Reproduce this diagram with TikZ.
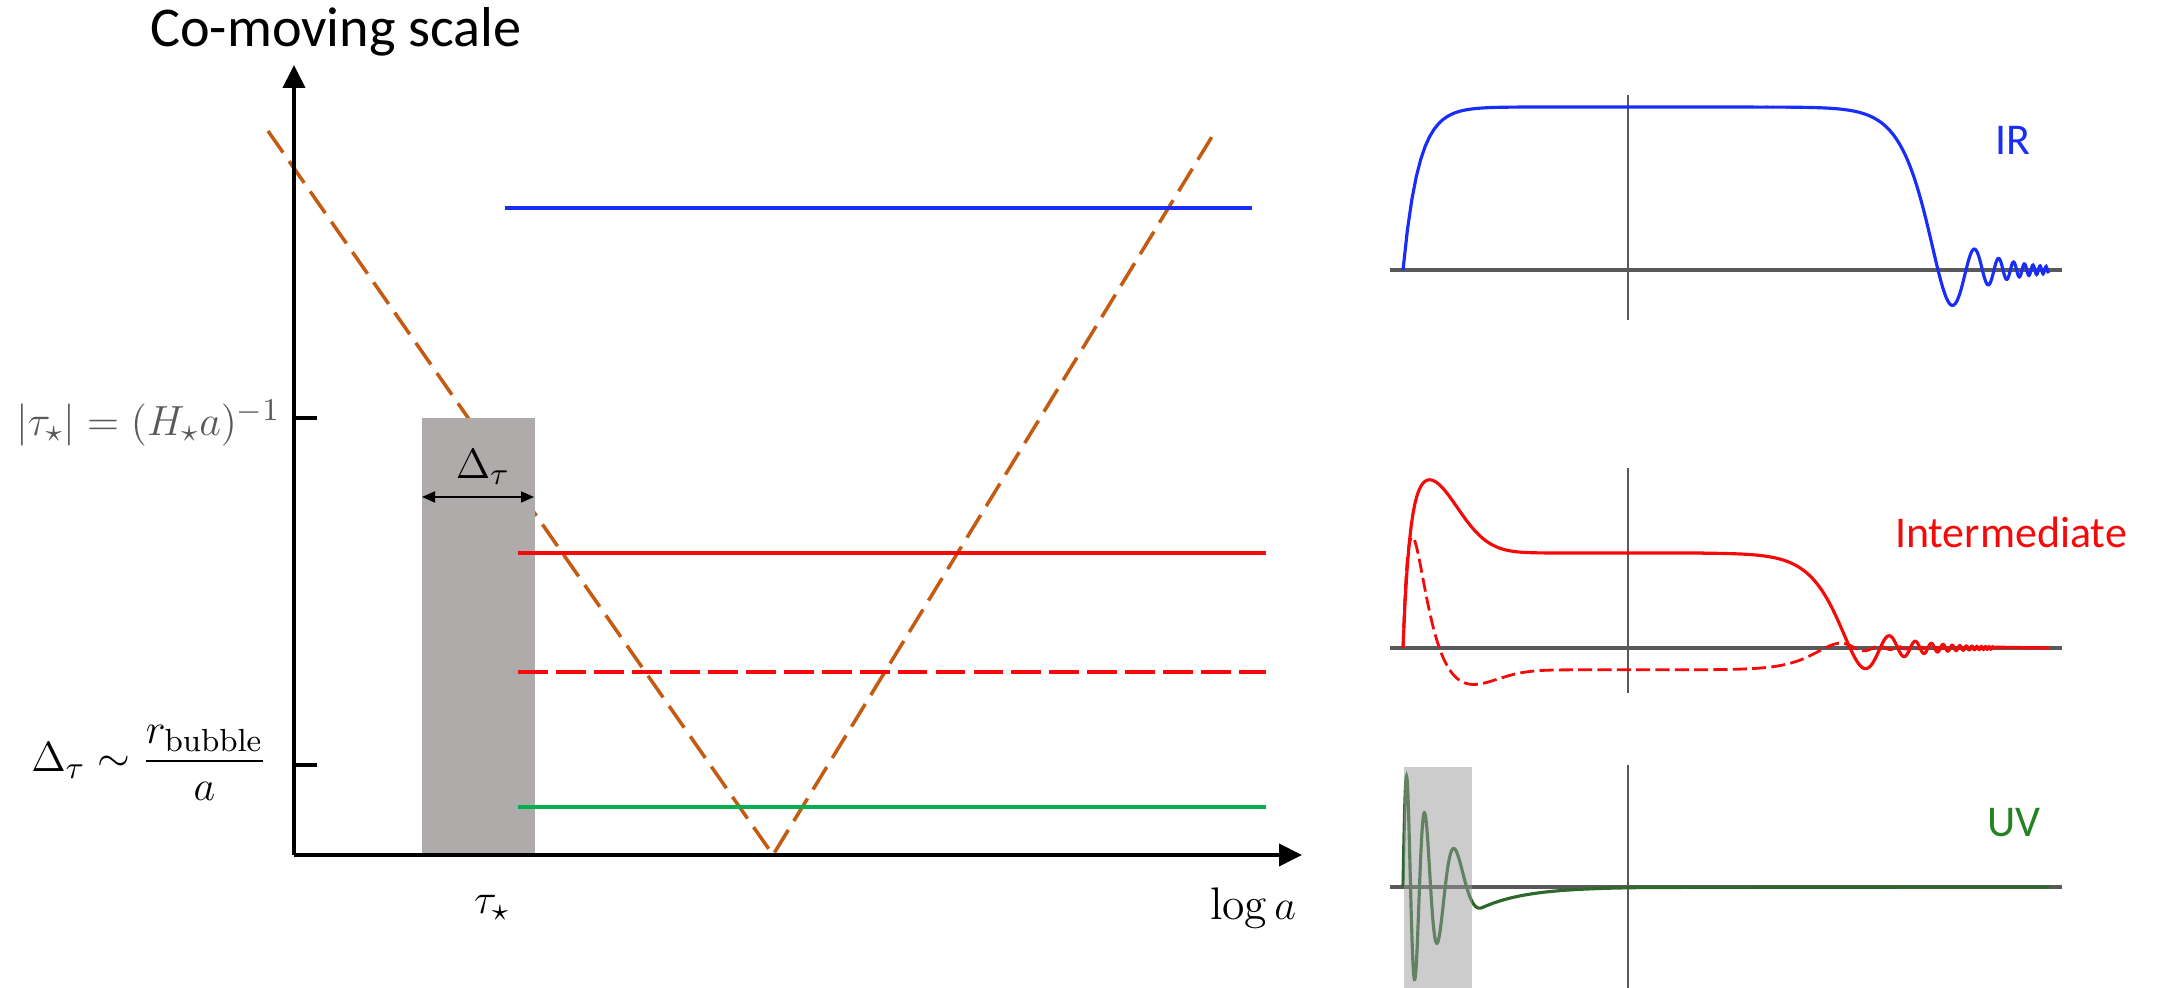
\documentclass[tikz,border=0pt]{standalone}
\usepackage{amsmath}
\usepackage{fontspec}
\newfontfamily\calibri{Carlito}
\usetikzlibrary{arrows.meta}
\definecolor{warmgray}{RGB}{174,171,170}
\definecolor{horizon}{RGB}{197,90,17}
\definecolor{irblue}{RGB}{25,45,250}
\definecolor{modered}{RGB}{245,10,10}
\definecolor{uvgreen}{RGB}{0,176,80}
\definecolor{uvdark}{RGB}{45,105,45}
\definecolor{uvlabel}{RGB}{35,130,35}

\begin{document}
\begin{tikzpicture}[>={Triangle[length=2.3mm,width=2.2mm]},
    axis/.style={line width=1.1pt},
    mathlabel/.style={inner sep=0pt, font=\fontsize{13}{15}\selectfont},
    panellabel/.style={inner sep=0pt, font=\calibri\fontsize{12.5}{15}\selectfont},
    declare function={jay(\z)=sin(deg(\z))/\z;}]
    \useasboundingbox (-2.94,-1.33) rectangle (18.68,8.55);
    \draw[horizon, line width=1pt, dash pattern=on 7.5pt off 3pt] (-0.26,7.24) -- (4.79,0) -- (9.19,7.20);
    \fill[warmgray] (1.28,0) rectangle (2.41,4.37);
    \draw[irblue, line width=0.9pt] (2.11,6.47) -- (9.58,6.47);
    \draw[modered, line width=0.9pt] (2.24,3.02) -- (9.72,3.02);
    \draw[modered, line width=1.1pt, dash pattern=on 8.5pt off 2.3pt] (2.24,1.83) -- (9.72,1.83);
    \draw[uvgreen, line width=0.9pt] (2.24,0.48) -- (9.72,0.48);
    \coordinate (O) at (0,0);
    \coordinate (xend) at (10.08,0);
    \coordinate (yend) at (0,7.90);
    \draw[axis, ->] (O) -- (xend);
    \draw[axis, ->] (O) -- (yend);
    \foreach \y in {4.37,0.90}
        \draw[axis] (0,\y) -- (0.23,\y);
    \coordinate (wl) at (1.28,3.58);
    \coordinate (wr) at (2.40,3.58);
    \draw[{Triangle[length=1.3mm,width=1.1mm]}-{Triangle[length=1.3mm,width=1.1mm]}, line width=0.5pt] (wl) -- (wr);
    \node[font=\calibri\fontsize{16}{19}\selectfont] (title) at (0.42,8.23) {Co-moving scale};
    \node[mathlabel, anchor=east, text=black!65] (tstar) at (-0.13,4.32) {$|\tau_\star| = (H_\star a)^{-1}$};
    \node[mathlabel, anchor=east] (dtau) at (-0.26,0.92) {$\displaystyle\Delta_\tau \sim \frac{r_{\mathrm{bubble}}}{a}$};
    \node[mathlabel] (width) at (1.89,3.88) {$\Delta_\tau$};
    \node[mathlabel] (onset) at (1.98,-0.53) {$\tau_\star$};
    \node[mathlabel] (loga) at (9.59,-0.53) {$\log a$};

    \foreach \y/\top/\bot in {5.85/1.75/-0.50, 2.07/1.80/-0.45, -0.32/1.22/-1.01} {
        \draw[black!65, line width=1pt] (10.96,\y) -- (17.68,\y);
        \draw[black!65, line width=0.6pt] (13.34,\y+\top) -- (13.34,\y+\bot);
    }
    \begin{scope}[shift={(11.09,5.85)}]
        \draw[irblue, line width=0.9pt] plot[domain=0:3.5, samples=80] (\x,{1.63*(1-exp(-\x/0.156))})
            -- plot[domain=3.5:6.46, samples=500] (\x,{1.63*jay(pi*exp(2.476*(\x-5.35)))});
    \end{scope}
    \begin{scope}[shift={(11.09,2.07)}]
        \draw[modered, line width=0.9pt] plot[domain=0:3, samples=150] (\x,{0.95*(1-exp(-\x/0.06))*(1+0.8*exp(-pow((\x-0.22)/0.45,2)))})
            -- plot[domain=3:5.9, samples=700] (\x,{0.95*jay(pi*exp(2.3*(\x-4.47)))}) -- (6.46,0);
        \draw[modered, line width=0.8pt, dash pattern=on 4pt off 1.5pt] plot[domain=0:2.5, samples=300] (\x,{0.95*(1.3*(\x/0.1)*exp(1-\x/0.1)-(1-exp(-\x/0.15))*(0.23+0.19*exp(-pow((\x-0.6)/0.433,2))))})
            -- plot[domain=2.5:5.4, samples=500] (\x,{-0.95*0.23*jay(pi*exp(2.3*(\x-4.22)))});
    \end{scope}
    \begin{scope}[shift={(11.09,-0.32)}]
        \draw[uvdark, line width=0.9pt] plot[domain=0:0.797, samples=250] (\x,{1.2*exp(-\x/0.45)*sin(deg(21.1*(1-exp(-\x/0.466))))})
            -- plot[domain=0.797:2.5, samples=50] (\x,{-1.2*exp(-\x/0.45)}) -- (6.46,0);
        \fill[black!40, opacity=0.5] (0.01,-1.01) rectangle (0.69,1.20);
    \end{scope}
    \node[panellabel, text=irblue] (ir) at (17.19,7.15) {IR};
    \node[panellabel, text=modered] (mid) at (17.17,3.23) {Intermediate};
    \node[panellabel, text=uvlabel] (uv) at (17.20,0.32) {UV};
\end{tikzpicture}
\end{document}
